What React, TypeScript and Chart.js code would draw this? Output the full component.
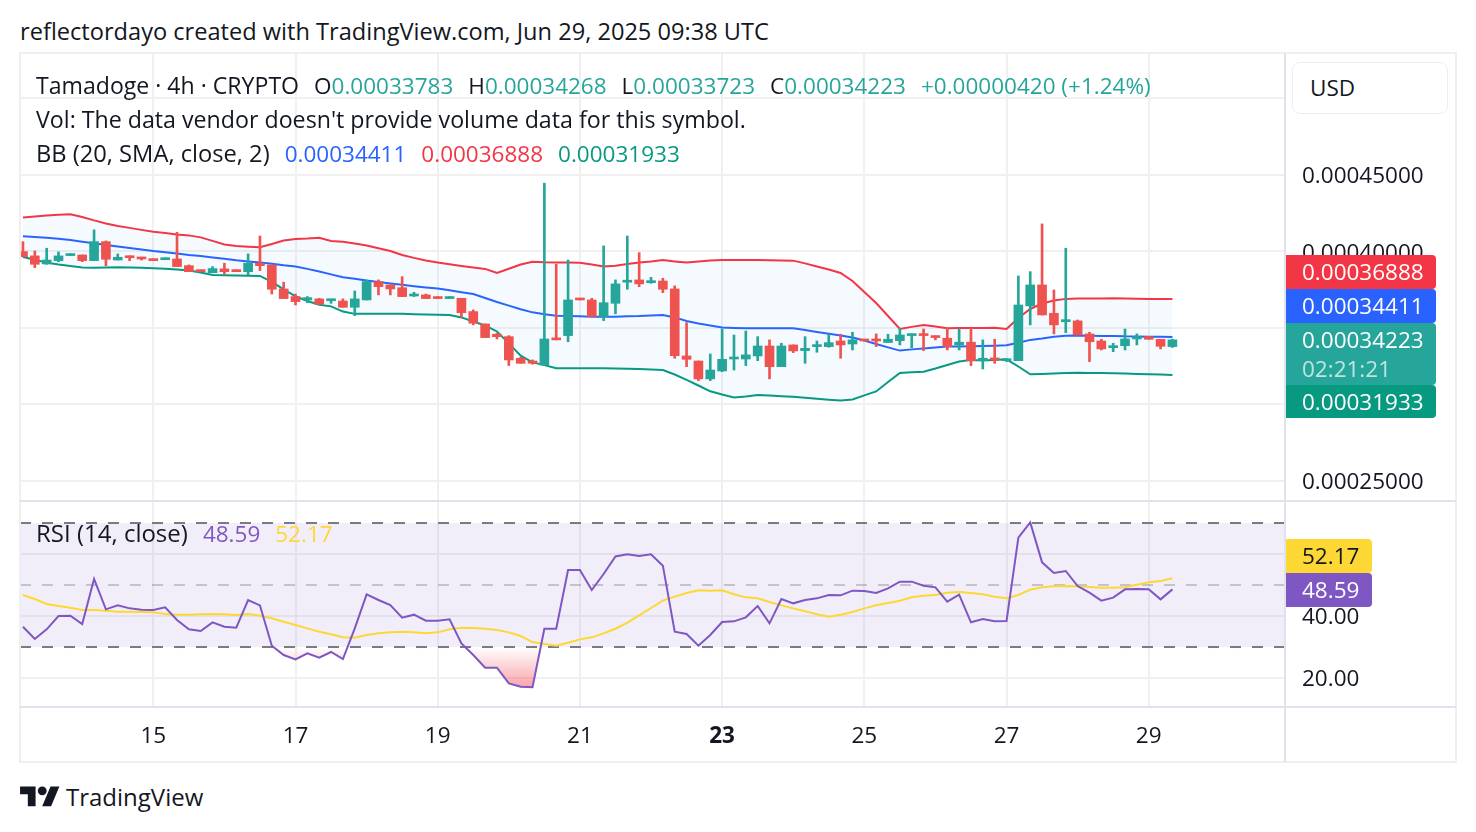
import React, { useEffect, useRef } from "react";
import { Chart, registerables } from "chart.js";

Chart.register(...registerables);

const FONT = "'Open Sans', 'Noto Sans', sans-serif";
const FS = 22.5;
const TEXT = "#131722";
const UP = "#26a69a";
const DOWN = "#ef5350";
const GRID = "#f0f0f0";
const FRAME = "#e0e3eb";

// Prices are stored in units of 0.00001 USD (1e-5); 4h candles Jun 13 04:00 -> Jun 29 08:00 UTC
const PRICE_UNIT = 1e-5;

const openP = [
  39.99, 39.71, 39.18, 39.4, 39.73, 39.77, 39.4, 40.64, 39.44, 39.71,
  39.62, 39.51, 39.46, 39.51, 39.07, 38.79, 38.61, 38.86, 38.79, 38.68,
  39.23, 39.12, 37.55, 37.05, 36.83, 36.9, 36.78, 36.76, 36.35, 36.83,
  38.03, 37.81, 37.63, 37.09, 37.16, 37.05, 36.92, 36.94, 36.07, 35.26,
  34.59, 34.43, 33.02, 32.84, 32.58, 34.33, 34.5, 36.9, 36.83, 35.74,
  36.61, 37.99, 38.14, 37.96, 38.07, 37.55, 33.17, 32.84, 31.67, 32.19,
  32.97, 32.97, 33.17, 33.82, 32.47, 33.89, 33.52, 33.78, 33.78, 34.15,
  33.95, 34.26, 34.26, 34.05, 34.17, 34.5, 34.61, 34.48, 34.33, 33.89,
  34.07, 32.86, 33.02, 32.86, 32.86, 36.44, 37.81, 35.96, 35.41, 35.46,
  34.61, 34.15, 33.71, 33.84, 34.28, 34.43, 34.26, 33.783,
];
const highP = [
  40.64, 40.03, 40.21, 39.97, 39.84, 39.77, 41.41, 40.69, 39.84, 39.71,
  39.62, 39.51, 39.58, 41.25, 39.12, 38.79, 39.01, 39.23, 38.79, 39.84,
  41.01, 39.12, 37.99, 37.22, 37.05, 36.94, 36.83, 36.9, 37.42, 38.14,
  38.14, 37.81, 38.35, 37.33, 37.22, 37.05, 37.05, 36.94, 36.18, 35.26,
  34.65, 34.5, 33.08, 32.91, 44.46, 39.16, 39.44, 36.9, 36.94, 40.36,
  38.14, 41.01, 39.92, 38.31, 38.25, 37.75, 35.35, 32.84, 33.3, 34.93,
  34.54, 34.8, 34.43, 34.22, 34.0, 33.89, 34.43, 34.15, 34.59, 34.59,
  34.72, 34.26, 34.61, 34.59, 34.98, 34.61, 34.93, 34.48, 34.98, 34.93,
  34.98, 34.22, 34.26, 32.97, 38.4, 38.68, 41.8, 37.48, 40.21, 35.52,
  34.72, 34.26, 34.0, 34.93, 34.61, 34.43, 34.26, 34.268,
];
const lowP = [
  39.64, 38.94, 39.16, 39.33, 39.73, 39.33, 39.4, 39.07, 39.44, 39.4,
  39.44, 39.4, 39.46, 39.01, 38.68, 38.68, 38.61, 38.53, 38.68, 38.46,
  38.75, 37.22, 36.92, 36.5, 36.65, 36.55, 36.61, 36.35, 35.8, 36.83,
  37.16, 37.16, 37.05, 37.05, 36.92, 36.92, 36.92, 35.7, 35.2, 34.37,
  34.28, 32.54, 32.69, 32.63, 32.58, 34.22, 34.1, 36.83, 35.74, 35.48,
  35.92, 37.53, 37.7, 37.92, 37.31, 33.02, 32.47, 31.56, 31.56, 32.14,
  32.25, 32.54, 32.86, 31.67, 32.47, 33.39, 32.69, 33.41, 33.74, 33.02,
  33.56, 34.15, 33.78, 34.05, 33.89, 33.71, 33.52, 34.22, 33.56, 33.56,
  32.54, 32.32, 32.69, 32.8, 32.86, 35.2, 35.85, 34.61, 34.69, 34.54,
  32.8, 33.56, 33.45, 33.56, 33.89, 34.26, 33.63, 33.723,
];
const closeP = [
  39.66, 39.16, 39.44, 39.71, 39.84, 39.4, 40.64, 39.49, 39.62, 39.59,
  39.51, 39.4, 39.58, 39.01, 38.68, 38.68, 38.88, 38.68, 38.68, 39.23,
  39.07, 37.53, 36.92, 36.72, 36.98, 36.55, 36.83, 36.35, 36.9, 38.03,
  37.7, 37.55, 37.05, 37.22, 36.92, 36.92, 37.05, 36.0, 35.31, 34.37,
  34.43, 32.91, 32.69, 32.69, 34.28, 34.22, 36.83, 36.83, 35.74, 36.65,
  37.88, 38.09, 37.88, 38.09, 37.53, 33.19, 32.95, 31.67, 32.25, 32.95,
  33.08, 33.24, 33.82, 32.47, 33.82, 33.5, 33.67, 33.89, 34.04, 33.89,
  34.22, 34.15, 34.15, 34.26, 34.54, 34.61, 34.5, 34.37, 33.78, 34.07,
  32.86, 33.02, 32.91, 32.97, 36.5, 37.81, 35.85, 35.2, 35.52, 34.54,
  34.1, 33.63, 33.84, 34.28, 34.43, 34.26, 33.803, 34.223,
];

// Bollinger Bands (20, SMA, close, 2)
const bbUpper = [
  42.22, 42.29, 42.35, 42.4, 42.43, 42.25, 42.03, 41.83, 41.67, 41.54,
  41.41, 41.29, 41.21, 41.11, 41.05, 40.92, 40.69, 40.46, 40.35, 40.31,
  40.27, 40.49, 40.72, 40.82, 40.85, 40.9, 40.69, 40.64, 40.52, 40.39,
  40.21, 40.03, 39.77, 39.58, 39.41, 39.28, 39.16, 39.05, 38.95, 38.86,
  38.59, 38.87, 39.15, 39.33, 39.29, 39.27, 39.27, 39.26, 39.15, 39.01,
  39.07, 39.18, 39.28, 39.35, 39.44, 39.35, 39.27, 39.35, 39.41, 39.44,
  39.44, 39.44, 39.44, 39.42, 39.41, 39.4, 39.22, 39.02, 38.82, 38.59,
  38.07, 37.35, 36.63, 35.78, 34.93, 35.07, 35.2, 35.09, 34.98, 34.99,
  35.0, 35.0, 35.02, 34.93, 35.65, 36.24, 36.6, 36.8, 36.9, 36.92,
  36.93, 36.93, 36.94, 36.93, 36.91, 36.9, 36.89, 36.888,
];
const bbBasis = [
  40.99, 40.95, 40.9, 40.83, 40.75, 40.64, 40.54, 40.42, 40.33, 40.23,
  40.13, 40.03, 39.95, 39.86, 39.77, 39.7, 39.61, 39.52, 39.42, 39.35,
  39.28, 39.2, 39.1, 39.02, 38.86, 38.69, 38.5, 38.31, 38.22, 38.1,
  38.01, 37.91, 37.82, 37.73, 37.65, 37.58, 37.46, 37.34, 37.22, 36.96,
  36.7, 36.46, 36.22, 36.02, 35.9, 35.8, 35.78, 35.76, 35.74, 35.74,
  35.74, 35.76, 35.78, 35.82, 35.84, 35.69, 35.46, 35.29, 35.16, 35.03,
  35.0, 34.98, 34.98, 34.98, 34.98, 34.98, 34.87, 34.74, 34.62, 34.51,
  34.38, 34.18, 33.95, 33.73, 33.52, 33.6, 33.66, 33.73, 33.78, 33.79,
  33.81, 33.82, 33.84, 33.87, 34.03, 34.22, 34.31, 34.42, 34.49, 34.5,
  34.49, 34.48, 34.48, 34.45, 34.44, 34.43, 34.42, 34.411,
];
const bbLower = [
  39.64, 39.46, 39.27, 39.15, 39.05, 38.95, 38.94, 38.95, 38.96, 38.95,
  38.93, 38.9, 38.87, 38.82, 38.76, 38.63, 38.46, 38.44, 38.42, 38.41,
  38.4, 38.01, 37.52, 37.06, 36.76, 36.52, 36.41, 36.07, 35.92, 35.92,
  35.92, 35.92, 35.92, 35.9, 35.88, 35.86, 35.84, 35.69, 35.42, 35.16,
  34.77, 33.99, 33.19, 32.75, 32.57, 32.37, 32.37, 32.37, 32.37, 32.36,
  32.35, 32.33, 32.31, 32.28, 32.25, 31.96, 31.61, 31.24, 30.86, 30.65,
  30.46, 30.52, 30.62, 30.58, 30.54, 30.51, 30.44, 30.37, 30.31, 30.26,
  30.33, 30.59, 30.85, 31.47, 32.06, 32.1, 32.14, 32.35, 32.58, 32.81,
  32.91, 32.88, 32.91, 32.95, 32.48, 31.97, 31.99, 32.02, 32.05, 32.07,
  32.06, 32.05, 32.04, 32.02, 31.99, 31.97, 31.95, 31.933,
];

// RSI (14, close) and its moving average
const rsiValues = [
  36.55, 32.58, 35.7, 40.0, 40.1, 37.42, 51.94, 42.15, 43.44, 42.47,
  42.04, 41.94, 42.8, 38.71, 35.7, 35.16, 37.96, 36.55, 36.24, 45.16,
  43.44, 30.43, 27.42, 26.02, 27.96, 26.56, 28.39, 26.13, 36.0, 47.0,
  45.16, 43.55, 39.46, 40.43, 38.49, 38.49, 38.92, 31.18, 27.42, 23.33,
  23.33, 18.28, 17.2, 17.0, 35.91, 35.91, 54.84, 54.84, 48.39, 53.55,
  59.2, 59.9, 59.35, 59.9, 56.24, 34.95, 34.19, 30.43, 33.87, 38.06,
  38.28, 39.57, 43.23, 37.63, 45.48, 44.09, 45.16, 45.7, 46.77, 46.66,
  48.17, 48.06, 47.42, 48.92, 51.08, 51.08, 49.78, 49.25, 44.62, 46.88,
  37.96, 39.03, 38.28, 38.39, 65.27, 70.21, 57.31, 53.87, 54.52, 49.68,
  47.53, 44.95, 45.91, 48.6, 48.71, 48.6, 45.38, 48.59,
];
const rsiMA = [
  46.77, 45.48, 43.87, 43.23, 42.69, 41.94, 41.94, 41.72, 41.4, 41.4,
  41.29, 41.18, 40.65, 40.43, 40.43, 40.54, 40.65, 40.54, 40.32, 40.65,
  40.11, 39.25, 38.17, 37.1, 36.02, 34.95, 34.09, 33.12, 33.01, 33.87,
  34.41, 34.73, 34.95, 34.73, 34.41, 34.73, 35.7, 36.24, 36.13, 35.91,
  35.48, 34.73, 33.55, 31.61, 30.97, 30.43, 31.4, 32.47, 33.12, 34.41,
  35.9, 37.85, 40.22, 42.58, 44.95, 46.24, 47.42, 48.28, 48.17, 48.28,
  47.0, 46.02, 45.7, 44.52, 43.44, 42.47, 41.51, 40.54, 39.78, 40.43,
  41.29, 42.47, 43.44, 44.19, 44.95, 46.02, 46.56, 46.77, 47.53, 47.74,
  47.42, 47.0, 46.24, 45.7, 46.77, 48.49, 49.25, 49.57, 49.68, 49.57,
  49.35, 49.14, 49.14, 49.25, 50.11, 50.86, 51.29, 52.17,
];

const dayLabels = ["15", "17", "19", "21", "23", "25", "27", "29"];
const dayCandleIndex = [11, 23, 35, 47, 59, 71, 83, 95];
const boldDayLabel = "23";
const priceTickValues = [25, 30, 35, 40, 45, 50];
const rsiTickValues = [20, 40, 60];
const rsiLevels = [70, 50, 30];
const countdown = "02:21:21";

const X_MIN = -0.25;
const X_MAX = 106.5;
const PRICE_MIN = 23.69;
const PRICE_MAX = 52.97;
const RSI_MIN = 10.65;
const RSI_MAX = 77.1;

const fmtP = (v: number) => (v * PRICE_UNIT).toFixed(8);
const idx = openP.map((_, i) => i);
const isUp = (i: number) => closeP[i] >= openP[i];
const last = idx.length - 1;

const noPad = (s: any) => {
  s.paddingTop = 0;
  s.paddingBottom = 0;
  s.paddingLeft = 0;
  s.paddingRight = 0;
};

function xScale(showLabels: boolean) {
  return {
    type: "linear" as const,
    min: X_MIN,
    max: X_MAX,
    offset: false,
    afterBuildTicks: (s: any) => {
      s.ticks = dayCandleIndex.map((v) => ({ value: v }));
    },
    afterFit: (s: any) => {
      s.height = showLabels ? 55 : 0;
      noPad(s);
    },
    ticks: {
      display: showLabels,
      autoSkip: false,
      maxRotation: 0,
      minRotation: 0,
      padding: 16,
      color: TEXT,
      font: (c: any) => {
        const k = c.tick ? dayCandleIndex.indexOf(c.tick.value) : -1;
        return {
          family: FONT,
          size: FS,
          weight: k >= 0 && dayLabels[k] === boldDayLabel ? "bold" : "normal",
        };
      },
      callback: (v: any) => {
        const k = dayCandleIndex.indexOf(v);
        return k >= 0 ? dayLabels[k] : "";
      },
    },
    grid: { color: GRID, lineWidth: 2, drawTicks: false, offset: false },
    border: { display: false },
  };
}

function yScale(min: number, max: number, tickValues: number[], fmt: (v: number) => string) {
  return {
    type: "linear" as const,
    position: "right" as const,
    min,
    max,
    afterBuildTicks: (s: any) => {
      s.ticks = tickValues.map((v) => ({ value: v }));
    },
    afterFit: (s: any) => {
      s.width = 171;
      noPad(s);
    },
    ticks: {
      padding: 17,
      labelOffset: 2,
      color: TEXT,
      font: { family: FONT, size: FS },
      callback: (v: any) => fmt(Number(v)),
    },
    grid: { color: GRID, lineWidth: 2, drawTicks: false },
    border: { display: false },
  };
}

const rsiZonesPlugin = {
  id: "rsiZones",
  beforeDatasetsDraw(chart: any) {
    const { ctx, chartArea: a, scales } = chart;
    const y = scales.y;
    const y70 = y.getPixelForValue(rsiLevels[0]);
    const y50 = y.getPixelForValue(rsiLevels[1]);
    const y30 = y.getPixelForValue(rsiLevels[2]);
    ctx.save();
    ctx.fillStyle = "rgba(126,87,194,0.1)";
    ctx.fillRect(a.left, y70, a.right - a.left, y30 - y70);

    const pts = chart.getDatasetMeta(0).data;
    const zone = (level: number, below: boolean, rgb: string, far: number) => {
      const yl = y.getPixelForValue(level);
      const yf = y.getPixelForValue(far);
      ctx.save();
      ctx.beginPath();
      if (below) ctx.rect(a.left, yl, a.right - a.left, a.bottom - yl);
      else ctx.rect(a.left, a.top, a.right - a.left, yl - a.top);
      ctx.clip();
      const g = ctx.createLinearGradient(0, yl, 0, yf);
      g.addColorStop(0, `rgba(${rgb},0)`);
      g.addColorStop(1, `rgba(${rgb},0.7)`);
      ctx.fillStyle = g;
      ctx.beginPath();
      ctx.moveTo(pts[0].x, yl);
      pts.forEach((p: any) => ctx.lineTo(p.x, p.y));
      ctx.lineTo(pts[pts.length - 1].x, yl);
      ctx.closePath();
      ctx.fill();
      ctx.restore();
    };
    zone(rsiLevels[2], true, "242,54,69", 10);
    zone(rsiLevels[0], false, "8,153,129", 90);

    ctx.setLineDash([11, 11]);
    ctx.lineWidth = 2;
    ctx.strokeStyle = "#787b86";
    [y70, y30].forEach((yy) => {
      ctx.beginPath();
      ctx.moveTo(a.left, yy);
      ctx.lineTo(a.right, yy);
      ctx.stroke();
    });
    ctx.lineWidth = 1.5;
    ctx.strokeStyle = "rgba(120,123,134,0.5)";
    ctx.beginPath();
    ctx.moveTo(a.left, y50);
    ctx.lineTo(a.right, y50);
    ctx.stroke();
    ctx.restore();
  },
};

const baseOptions = {
  animation: false,
  responsive: false,
  devicePixelRatio: 1,
  events: [],
  layout: { padding: 0, autoPadding: false },
  plugins: { legend: { display: false }, tooltip: { enabled: false } },
};

function mainConfig(): any {
  const colors = idx.map((i) => (isUp(i) ? UP : DOWN));
  const line = (data: number[], color: string, extra: any = {}) => ({
    type: "line",
    data: idx.map((i) => ({ x: i, y: data[i] })),
    borderColor: color,
    borderWidth: 2,
    pointRadius: 0,
    tension: 0,
    order: 3,
    ...extra,
  });
  return {
    type: "bar",
    data: {
      datasets: [
        {
          type: "bar",
          label: "body",
          data: idx.map((i) => ({ x: i, y: [openP[i], closeP[i]] })),
          backgroundColor: colors,
          barThickness: 9,
          grouped: false,
          minBarLength: 2,
          order: 0,
        },
        {
          type: "bar",
          label: "wick",
          data: idx.map((i) => ({ x: i, y: [lowP[i], highP[i]] })),
          backgroundColor: colors,
          barThickness: 2,
          grouped: false,
          order: 1,
        },
        line(bbUpper, "#f23645", { fill: "+2", backgroundColor: "rgba(33,150,243,0.05)" }),
        line(bbBasis, "#2962ff", { fill: false }),
        line(bbLower, "#089981", { fill: false }),
      ],
    },
    options: {
      ...baseOptions,
      scales: {
        x: xScale(false),
        y: yScale(PRICE_MIN, PRICE_MAX, priceTickValues, fmtP),
      },
    },
  };
}

function rsiConfig(): any {
  return {
    type: "line",
    data: {
      datasets: [
        {
          label: "RSI",
          data: idx.map((i) => ({ x: i, y: rsiValues[i] })),
          borderColor: "#7e57c2",
          borderWidth: 2,
          pointRadius: 0,
          tension: 0,
          order: 0,
        },
        {
          label: "RSI MA",
          data: idx.map((i) => ({ x: i, y: rsiMA[i] })),
          borderColor: "#fdd835",
          borderWidth: 2,
          pointRadius: 0,
          tension: 0,
          order: 1,
        },
      ],
    },
    options: {
      ...baseOptions,
      scales: {
        x: xScale(true),
        y: yScale(RSI_MIN, RSI_MAX, rsiTickValues, (v) => v.toFixed(2)),
      },
    },
    plugins: [rsiZonesPlugin],
  };
}

const abs = (left: number, top: number, extra: React.CSSProperties = {}): React.CSSProperties => ({
  position: "absolute",
  left,
  top,
  ...extra,
});

const textLine = (left: number, top: number, size: number = FS): React.CSSProperties =>
  abs(left, top, { fontSize: size, lineHeight: "34px", whiteSpace: "nowrap" });

function Badge({ top, height, bg, color = "#fff", width = 150, children }: any) {
  return (
    <div
      style={abs(1286, top, {
        width,
        height,
        background: bg,
        color,
        borderRadius: "0 4px 4px 0",
        boxSizing: "border-box",
        paddingLeft: 16,
        fontSize: FS,
        lineHeight: `${height}px`,
        whiteSpace: "nowrap",
      })}
    >
      {children}
    </div>
  );
}

export default function App() {
  const mainRef = useRef<HTMLCanvasElement>(null);
  const rsiRef = useRef<HTMLCanvasElement>(null);

  useEffect(() => {
    const main = new Chart(mainRef.current as HTMLCanvasElement, mainConfig());
    const rsi = new Chart(rsiRef.current as HTMLCanvasElement, rsiConfig());
    return () => {
      main.destroy();
      rsi.destroy();
    };
  }, []);

  const change = closeP[last] - closeP[last - 1];
  const pct = (change / closeP[last - 1]) * 100;
  const g = { color: UP };
  const gap = { marginLeft: 15 };

  return (
    <div
      style={{
        position: "fixed",
        left: 0,
        top: 0,
        width: 1476,
        height: 832,
        background: "#fff",
        fontFamily: FONT,
        color: TEXT,
        overflow: "hidden",
      }}
    >
      <div style={textLine(20, 14, 23.6)}>reflectordayo created with TradingView.com, Jun 29, 2025 09:38 UTC</div>

      <canvas ref={mainRef} width={1436} height={448} style={abs(20, 53, { width: 1436, height: 448 })} />
      <canvas ref={rsiRef} width={1436} height={261} style={abs(20, 501, { width: 1436, height: 261 })} />

      {/* frame */}
      <div style={abs(19, 52, { width: 1438, height: 711, border: "2px solid #efefef", boxSizing: "border-box" })} />
      <div style={abs(1284, 53, { width: 2, height: 709, background: FRAME })} />
      <div style={abs(20, 500, { width: 1436, height: 2, background: FRAME })} />
      <div style={abs(20, 706, { width: 1436, height: 2, background: FRAME })} />

      {/* legends */}
      <div style={textLine(36, 68)}>
        <span style={{ fontSize: 23.1 }}>Tamadoge · 4h · CRYPTO</span>
        <span style={gap}>
          O<span style={g}>{fmtP(openP[last])}</span>
        </span>
        <span style={gap}>
          H<span style={g}>{fmtP(highP[last])}</span>
        </span>
        <span style={gap}>
          L<span style={g}>{fmtP(lowP[last])}</span>
        </span>
        <span style={gap}>
          C<span style={g}>{fmtP(closeP[last])}</span>
        </span>
        <span style={{ ...gap, ...g }}>
          +{fmtP(change)} (+{pct.toFixed(2)}%)
        </span>
      </div>
      <div style={textLine(36, 102, 23.2)}>Vol: The data vendor doesn't provide volume data for this symbol.</div>
      <div style={textLine(36, 136)}>
        <span style={{ fontSize: 23.7 }}>BB (20, SMA, close, 2)</span>
        <span style={{ ...gap, color: "#2962ff" }}>{fmtP(bbBasis[last])}</span>
        <span style={{ ...gap, color: "#f23645" }}>{fmtP(bbUpper[last])}</span>
        <span style={{ ...gap, color: "#089981" }}>{fmtP(bbLower[last])}</span>
      </div>
      <div style={textLine(36, 516)}>
        <span style={{ fontSize: 24 }}>RSI (14, close)</span>
        <span style={{ ...gap, color: "#7e57c2" }}>{rsiValues[last].toFixed(2)}</span>
        <span style={{ ...gap, color: "#fdd835" }}>{rsiMA[last].toFixed(2)}</span>
      </div>

      {/* USD box */}
      <div
        style={abs(1292, 62, {
          width: 156,
          height: 52,
          border: "1.5px solid #eceff2",
          borderRadius: 8,
          boxSizing: "border-box",
          paddingLeft: 17,
          fontSize: FS,
          lineHeight: "49px",
          background: "#fff",
        })}
      >
        USD
      </div>

      {/* price badges */}
      <Badge top={255} height={34} bg="#f23645">
        {fmtP(bbUpper[last])}
      </Badge>
      <Badge top={289} height={34} bg="#2962ff">
        {fmtP(bbBasis[last])}
      </Badge>
      <div
        style={abs(1286, 323, {
          width: 150,
          height: 62,
          background: UP,
          color: "#fff",
          borderRadius: "0 4px 4px 0",
          boxSizing: "border-box",
          paddingLeft: 16,
          paddingTop: 2,
          fontSize: FS,
          lineHeight: "29px",
          whiteSpace: "nowrap",
        })}
      >
        <div>{fmtP(closeP[last])}</div>
        <div style={{ color: "rgba(255,255,255,0.7)" }}>{countdown}</div>
      </div>
      <Badge top={385} height={33} bg="#089981">
        {fmtP(bbLower[last])}
      </Badge>

      {/* RSI badges */}
      <Badge top={539} height={34} bg="#fdd835" color={TEXT} width={86}>
        {rsiMA[last].toFixed(2)}
      </Badge>
      <Badge top={573} height={34} bg="#7e57c2" width={86}>
        {rsiValues[last].toFixed(2)}
      </Badge>

      {/* TradingView logo */}
      <svg style={abs(20, 782)} width={40} height={31} viewBox="0 0 36 28">
        <path d="M14 22H7V11H0V4h14v18zM28 22h-8l7.5-18h8L28 22z" fill={TEXT} />
        <circle cx={20} cy={8} r={4} fill={TEXT} />
      </svg>
      <div style={abs(66, 779, { fontSize: 24, lineHeight: "36px", whiteSpace: "nowrap" })}>TradingView</div>
    </div>
  );
}
